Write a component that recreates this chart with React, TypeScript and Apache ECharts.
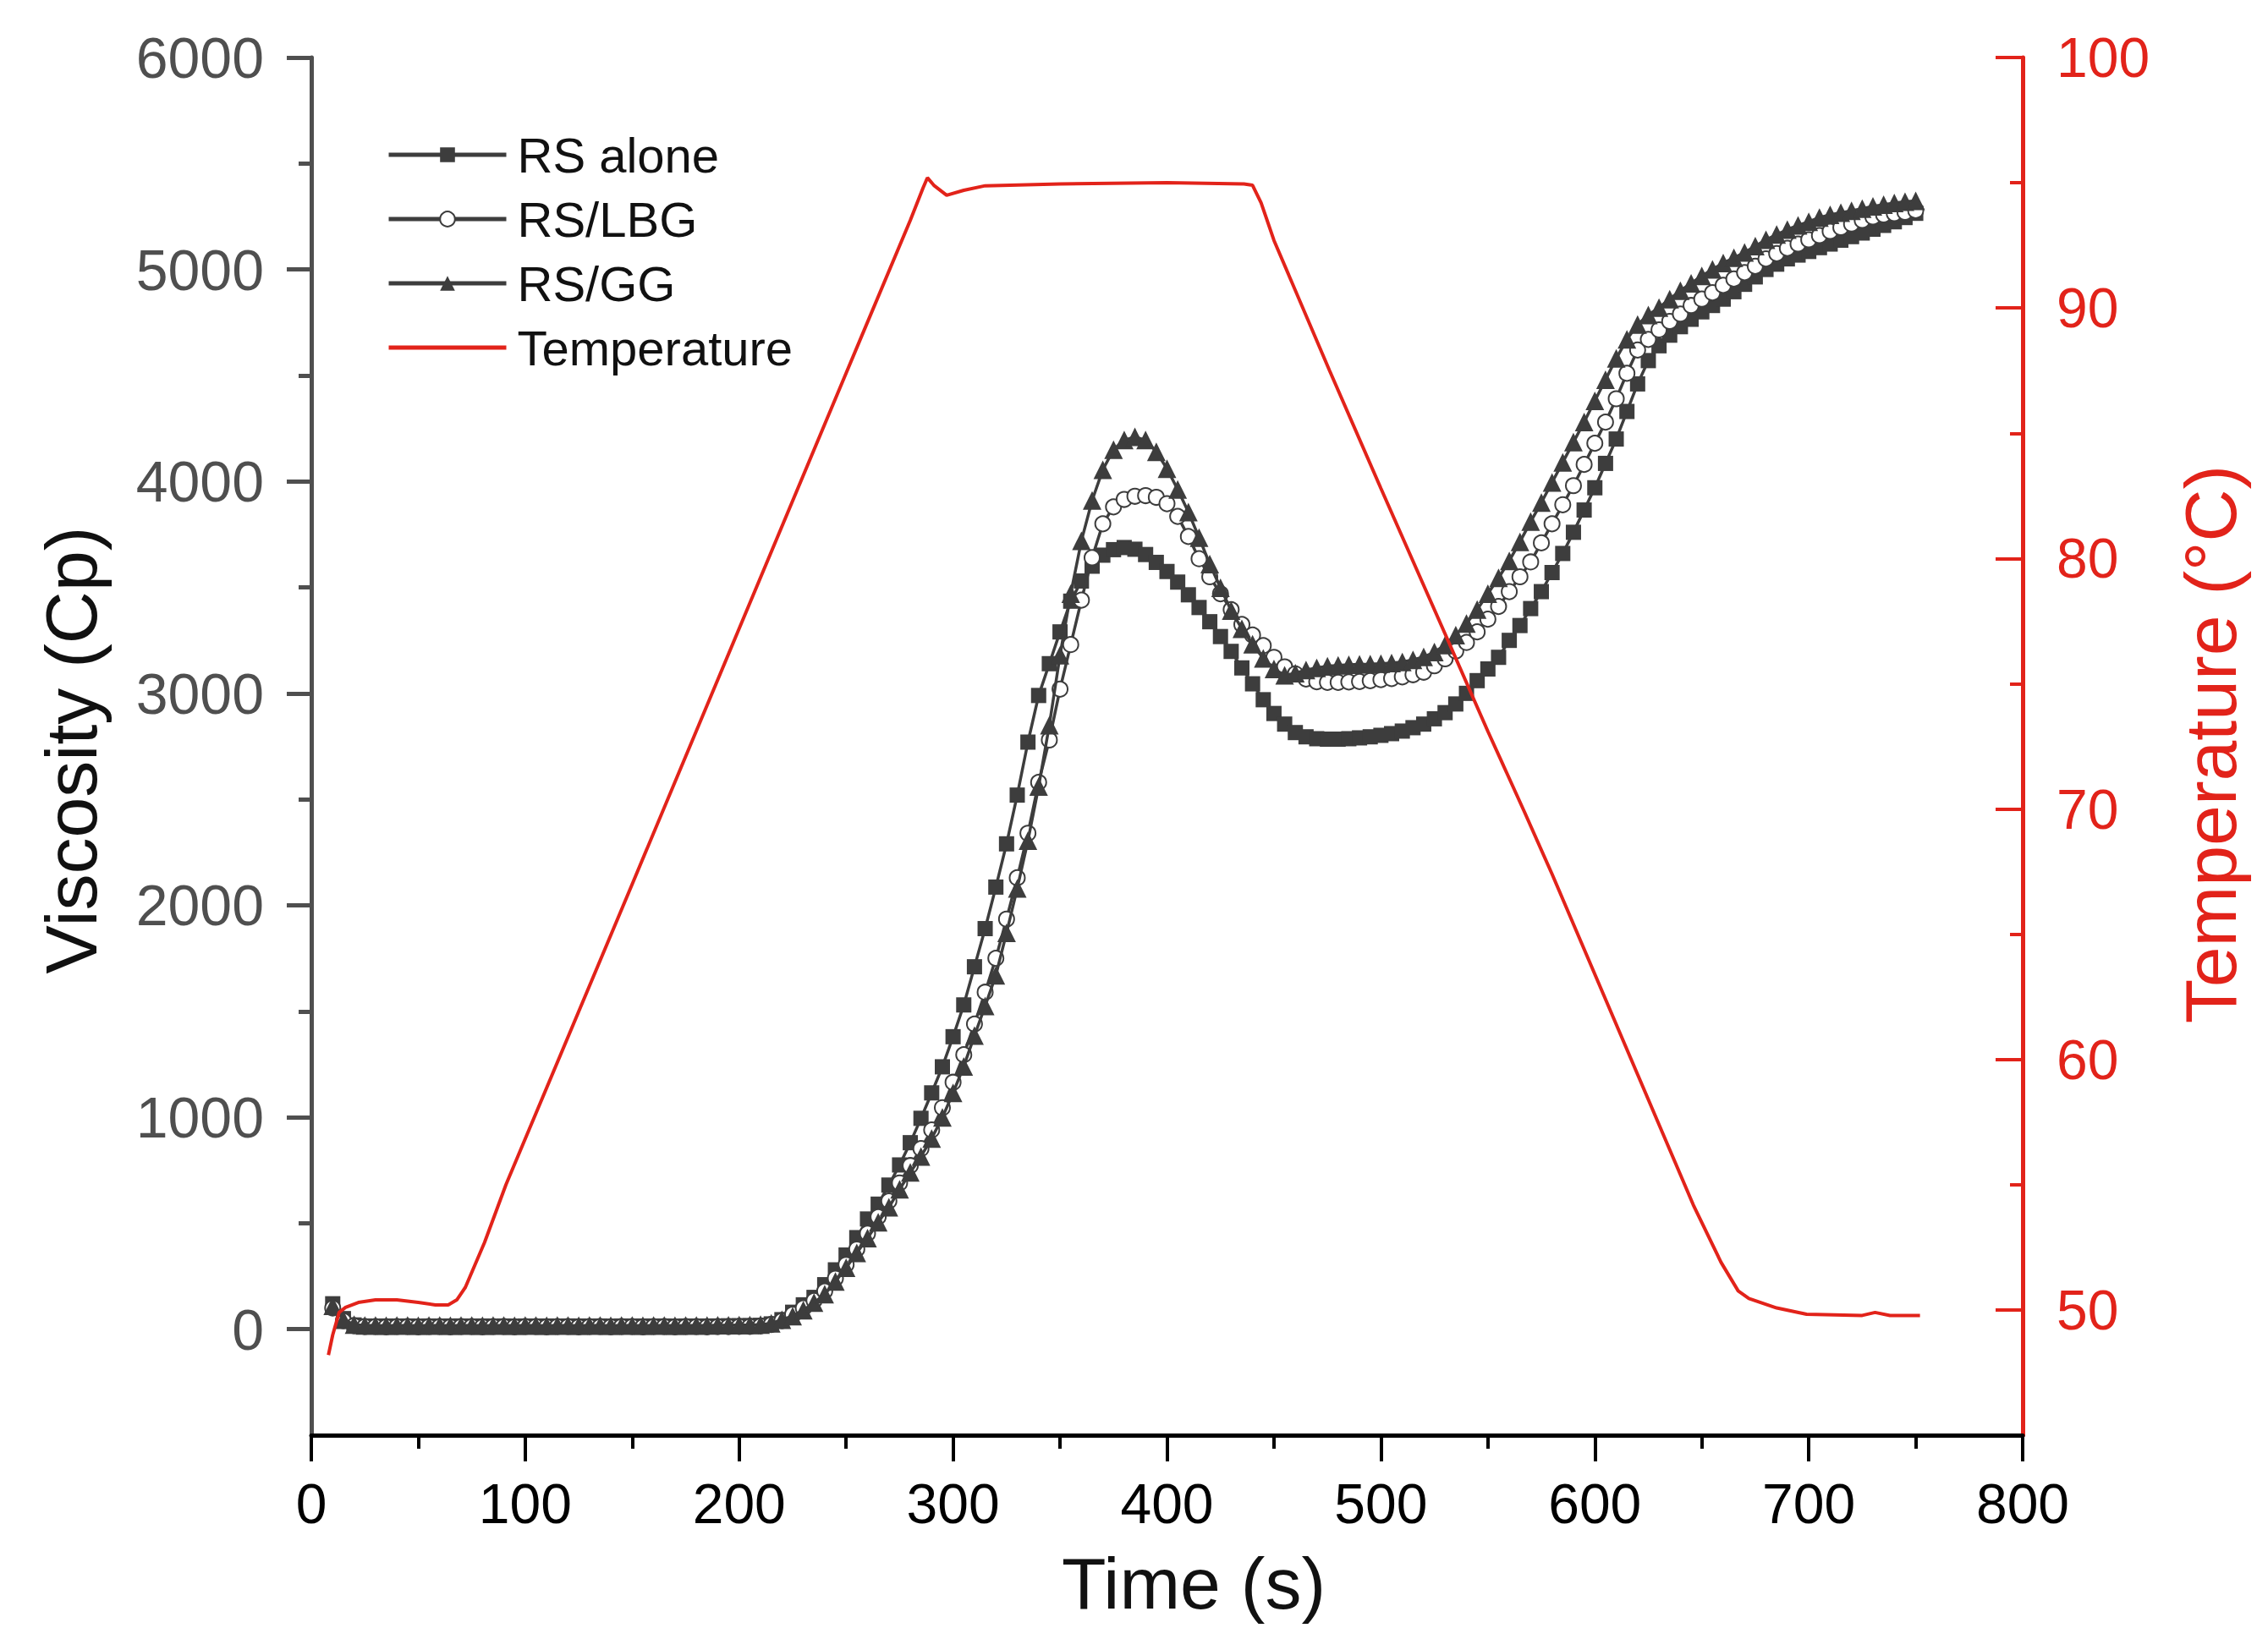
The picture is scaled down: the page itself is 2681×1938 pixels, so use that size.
import React, { useEffect, useRef } from 'react';
import * as echarts from 'echarts';

// Sample times (s) for the viscosity curves
const TIME_S = [
  10, 15, 20, 25, 30, 35, 40, 45, 50, 55,
  60, 65, 70, 75, 80, 85, 90, 95, 100, 105,
  110, 115, 120, 125, 130, 135, 140, 145, 150, 155,
  160, 165, 170, 175, 180, 185, 190, 195, 200, 205,
  210, 215, 220, 225, 230, 235, 240, 245, 250, 255,
  260, 265, 270, 275, 280, 285, 290, 295, 300, 305,
  310, 315, 320, 325, 330, 335, 340, 345, 350, 355,
  360, 365, 370, 375, 380, 385, 390, 395, 400, 405,
  410, 415, 420, 425, 430, 435, 440, 445, 450, 455,
  460, 465, 470, 475, 480, 485, 490, 495, 500, 505,
  510, 515, 520, 525, 530, 535, 540, 545, 550, 555,
  560, 565, 570, 575, 580, 585, 590, 595, 600, 605,
  610, 615, 620, 625, 630, 635, 640, 645, 650, 655,
  660, 665, 670, 675, 680, 685, 690, 695, 700, 705,
  710, 715, 720, 725, 730, 735, 740, 745, 750,
];

const RS_ALONE = [
  120, 50, 20, 15, 14, 15, 14, 15, 14, 15,
  14, 15, 15, 14, 15, 14, 15, 14, 15, 14,
  15, 14, 15, 15, 14, 15, 14, 15, 14, 15,
  14, 15, 14, 15, 14, 15, 15, 16, 16, 17,
  18, 25, 45, 80, 115, 150, 210, 280, 350, 432,
  520, 590, 680, 775, 880, 995, 1115, 1238, 1380, 1530,
  1710, 1890, 2086, 2290, 2520, 2770, 2990, 3140, 3290, 3435,
  3530, 3600, 3652, 3678, 3688, 3680, 3655, 3618, 3575, 3525,
  3465, 3405, 3338, 3268, 3198, 3120, 3045, 2970, 2905, 2855,
  2815, 2795, 2786, 2784, 2784, 2786, 2790, 2795, 2802, 2810,
  2822, 2838, 2855, 2880, 2909, 2950, 3000, 3060, 3115, 3170,
  3250, 3320, 3400, 3480, 3570, 3660, 3760, 3865, 3970, 4085,
  4200, 4330, 4460, 4570, 4640, 4690, 4730, 4765, 4800, 4830,
  4860, 4895, 4930, 4965, 5000, 5025, 5050, 5068, 5085, 5103,
  5120, 5138, 5155, 5172, 5190, 5208, 5225, 5245, 5265,
];

const RS_LBG = [
  100, 40, 16, 12, 12, 11, 12, 12, 11, 12,
  12, 11, 12, 12, 11, 12, 12, 11, 12, 12,
  11, 12, 12, 11, 12, 12, 11, 12, 12, 11,
  12, 12, 11, 12, 12, 11, 12, 12, 13, 13,
  15, 22, 40, 70, 100, 135, 180, 240, 305, 378,
  452, 530, 605, 690, 772, 852, 940, 1045, 1165, 1295,
  1440, 1590, 1750, 1935, 2130, 2340, 2580, 2780, 3020, 3230,
  3440, 3640, 3800, 3880, 3915, 3930, 3933, 3925, 3895, 3835,
  3740, 3635, 3550, 3470, 3395, 3325, 3275, 3225, 3170, 3125,
  3092, 3068, 3055, 3052, 3052, 3054, 3056, 3060, 3065, 3070,
  3078, 3088, 3100, 3130, 3163, 3200, 3240, 3290, 3350, 3410,
  3480, 3550, 3620, 3710, 3800, 3890, 3980, 4080, 4180, 4280,
  4390, 4510, 4620, 4670, 4715, 4755, 4790, 4830, 4860, 4890,
  4925, 4955, 4985, 5015, 5050, 5075, 5100, 5120, 5140, 5160,
  5180, 5198, 5215, 5232, 5248, 5258, 5264, 5270, 5278,
];

const RS_GG = [
  110, 45, 22, 18, 18, 17, 18, 18, 17, 18,
  18, 17, 18, 18, 17, 18, 18, 17, 18, 18,
  17, 18, 18, 17, 18, 18, 17, 18, 18, 17,
  18, 18, 17, 18, 18, 18, 19, 19, 20, 20,
  22, 28, 45, 62, 90, 125, 165, 225, 290, 360,
  430, 505, 575, 660, 740, 815, 900, 999, 1115, 1240,
  1385, 1525, 1670, 1870, 2080, 2305, 2560, 2850, 3180, 3470,
  3720, 3910, 4055, 4150, 4195, 4210, 4195, 4140, 4060, 3962,
  3855, 3735, 3610, 3498, 3390, 3305, 3232, 3165, 3115, 3085,
  3095, 3110, 3120, 3128, 3132, 3135, 3137, 3138, 3140, 3143,
  3148, 3158, 3172, 3195, 3228, 3275, 3330, 3395, 3470, 3545,
  3625, 3715, 3810, 3900, 3995, 4090, 4185, 4280, 4380, 4480,
  4580, 4670, 4740, 4785, 4820, 4860, 4900, 4935, 4970, 5000,
  5030, 5055, 5080, 5110, 5140, 5165, 5188, 5208, 5225, 5245,
  5258, 5268, 5277, 5287, 5298, 5306, 5314, 5320, 5324,
];

// Temperature profile
const TEMP_TIME = [
  8, 10, 13, 16, 22, 30, 40, 50, 58, 64,
  68, 72, 81, 91, 150, 200, 250, 280, 286, 288,
  291, 297, 305, 315, 350, 400, 436, 440, 444, 450,
  476, 500, 532, 550, 567, 580, 593, 606, 620, 633,
  646, 659, 667, 672, 685, 699, 725, 731, 738, 752,
];
const TEMP_C = [
  48.2, 49.0, 49.9, 50.1, 50.3, 50.4, 50.4, 50.3, 50.2, 50.2,
  50.4, 50.9, 52.7, 55.0, 67.0, 77.2, 87.4, 93.5, 94.8, 95.2,
  94.9, 94.5, 94.7, 94.88, 94.95, 95.0, 94.95, 94.9, 94.2, 92.7,
  87.5, 82.8, 76.6, 73.1, 69.9, 67.4, 64.8, 62.2, 59.4, 56.8,
  54.2, 51.9, 50.76, 50.46, 50.08, 49.83, 49.78, 49.9, 49.78, 49.78,
];

// Axis ticks
const VISC_MAJOR = [0, 1000, 2000, 3000, 4000, 5000, 6000];
const VISC_MINOR = [500, 1500, 2500, 3500, 4500, 5500];
const TEMP_MAJOR = [50, 60, 70, 80, 90, 100];
const TEMP_MINOR = [55, 65, 75, 85, 95];

const SERIES_NAMES = ['RS alone', 'RS/LBG', 'RS/GG', 'Temperature'];

export default function App() {
  const ref = useRef<HTMLDivElement>(null);

  useEffect(() => {
    document.body.style.margin = '0';
    const chart = echarts.init(ref.current as HTMLDivElement, null, { renderer: 'svg' });
    const FONT = '"Liberation Sans", Arial, sans-serif';
    const DARK = '#3d3d3d';
    const GRAY = '#4f4f4f';
    const RED = '#e2231a';
    const pairs = (vals: number[]) => TIME_S.map((t, i) => [t, vals[i]]);
    const tempPairs = TEMP_TIME.map((t, i) => [t, TEMP_C[i]]);
    const plain = (v: number) => String(v);

    const option: any = {
      animation: false,
      backgroundColor: '#ffffff',
      grid: { left: 368, right: 290, top: 68, bottom: 241, outerBoundsMode: 'none' },
      legend: {
        orient: 'vertical',
        left: 452,
        top: 149,
        itemWidth: 139,
        itemHeight: 22,
        itemGap: 18,
        lineStyle: { width: 5 },
        textStyle: { fontSize: 58, fontFamily: FONT, color: '#111', lineHeight: 58, padding: [0, 0, 0, 8] },
        data: [
          SERIES_NAMES[0],
          SERIES_NAMES[1],
          SERIES_NAMES[2],
          { name: SERIES_NAMES[3], icon: 'path://M0,0L139,0L139,5L0,5Z' },
        ],
      },
      xAxis: {
        type: 'value',
        min: 0,
        max: 800,
        interval: 100,
        axisLine: { show: true, onZero: false, lineStyle: { color: '#000', width: 5 } },
        axisTick: { show: true, length: 31, lineStyle: { color: '#000', width: 4 } },
        minorTick: { show: true, splitNumber: 2, length: 16, lineStyle: { color: '#000', width: 4 } },
        axisLabel: { fontSize: 66, fontFamily: FONT, color: '#000', margin: 48, formatter: plain },
        splitLine: { show: false },
        minorSplitLine: { show: false },
      },
      yAxis: [
        {
          type: 'value',
          position: 'left',
          min: -500,
          max: 6000,
          axisLine: { show: true, onZero: false, lineStyle: { color: GRAY, width: 5 } },
          axisTick: { show: true, customValues: VISC_MAJOR, length: 29, lineStyle: { color: GRAY, width: 5 } },
          axisLabel: { customValues: VISC_MAJOR, fontSize: 68, fontFamily: FONT, color: GRAY, margin: 56, formatter: plain },
          splitLine: { show: false },
        },
        {
          type: 'value',
          position: 'right',
          min: 45,
          max: 100,
          axisLine: { show: true, onZero: false, lineStyle: { color: RED, width: 5 } },
          axisTick: { show: true, inside: true, customValues: TEMP_MAJOR, length: 32, lineStyle: { color: RED, width: 4 } },
          axisLabel: { customValues: TEMP_MAJOR, fontSize: 66, fontFamily: FONT, color: RED, margin: 40, formatter: plain },
          splitLine: { show: false },
        },
        {
          type: 'value',
          position: 'left',
          min: -500,
          max: 6000,
          axisLine: { show: false, onZero: false },
          axisTick: { show: true, customValues: VISC_MINOR, length: 15, lineStyle: { color: GRAY, width: 5 } },
          axisLabel: { show: false },
          splitLine: { show: false },
        },
        {
          type: 'value',
          position: 'right',
          min: 45,
          max: 100,
          axisLine: { show: false, onZero: false },
          axisTick: { show: true, inside: true, customValues: TEMP_MINOR, length: 15, lineStyle: { color: RED, width: 4 } },
          axisLabel: { show: false },
          splitLine: { show: false },
        },
      ],
      graphic: [
        {
          type: 'text', x: 84, y: 887, rotation: Math.PI / 2,
          style: { text: 'Viscosity (Cp)', fill: '#111', font: `86px ${FONT}`, textAlign: 'center', textVerticalAlign: 'middle' },
        },
        {
          type: 'text', x: 1411, y: 1872,
          style: { text: 'Time (s)', fill: '#111', font: `86px ${FONT}`, textAlign: 'center', textVerticalAlign: 'middle' },
        },
        {
          type: 'text', x: 2613, y: 880, rotation: Math.PI / 2,
          style: { text: 'Temperature (°C)', fill: RED, font: `86px ${FONT}`, textAlign: 'center', textVerticalAlign: 'middle' },
        },
      ],
      series: [
        {
          name: SERIES_NAMES[0], type: 'line', xAxisIndex: 0, yAxisIndex: 0,
          data: pairs(RS_ALONE), symbol: 'rect', symbolSize: 18, showAllSymbol: true,
          lineStyle: { color: DARK, width: 3.5 }, itemStyle: { color: DARK }, z: 2,
        },
        {
          name: SERIES_NAMES[1], type: 'line', xAxisIndex: 0, yAxisIndex: 0,
          data: pairs(RS_LBG), symbol: 'circle', symbolSize: 18, showAllSymbol: true,
          lineStyle: { color: DARK, width: 3.5 }, itemStyle: { color: '#ffffff', borderColor: DARK, borderWidth: 2 }, z: 3,
        },
        {
          name: SERIES_NAMES[2], type: 'line', xAxisIndex: 0, yAxisIndex: 0,
          data: pairs(RS_GG), symbol: 'triangle', symbolSize: 22, showAllSymbol: true,
          lineStyle: { color: DARK, width: 3.5 }, itemStyle: { color: DARK }, z: 4,
        },
        {
          name: SERIES_NAMES[3], type: 'line', xAxisIndex: 0, yAxisIndex: 1,
          data: tempPairs, symbol: 'none', showSymbol: false,
          lineStyle: { color: RED, width: 4 }, itemStyle: { color: RED }, z: 5,
        },
      ],
    };

    chart.setOption(option);
    return () => chart.dispose();
  }, []);

  return <div ref={ref} style={{ width: 2681, height: 1938, position: 'absolute', left: 0, top: 0 }} />;
}
